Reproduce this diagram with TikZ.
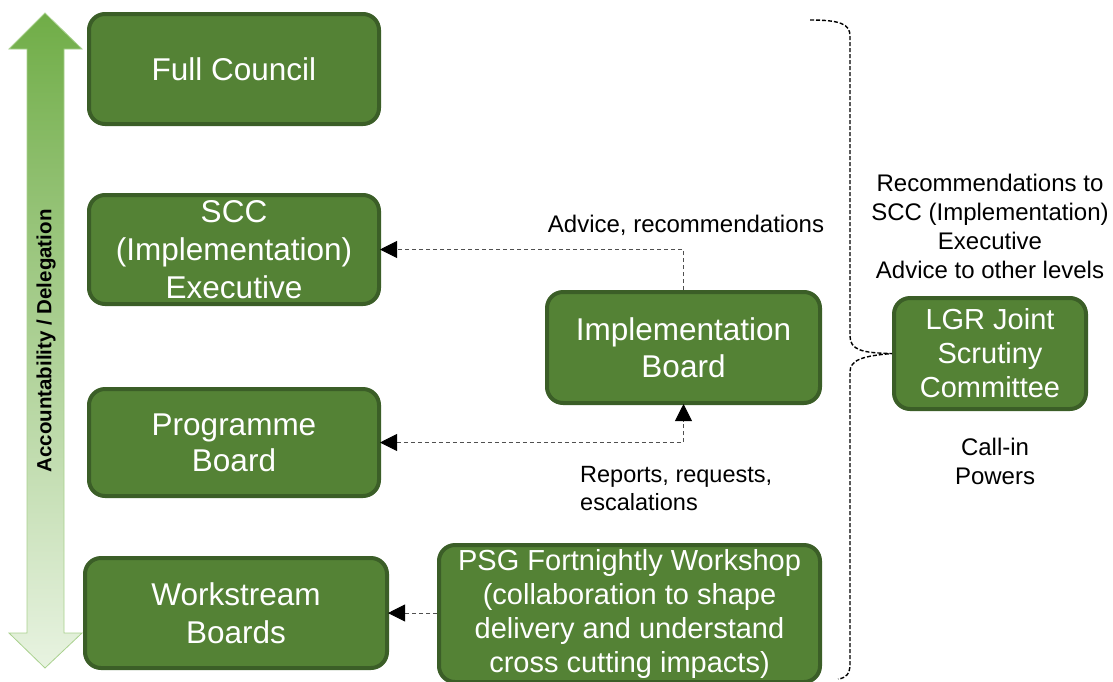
\documentclass[tikz,border=0pt]{standalone}
\usepackage{fontspec}
\setmainfont{Liberation Sans}
\usetikzlibrary{arrows.meta}

\definecolor{boxfill}{HTML}{548235}
\definecolor{boxedge}{HTML}{3B5E27}
\definecolor{arrowtop}{HTML}{70AD47}
\definecolor{arrowbot}{HTML}{E8F3E1}
\definecolor{arrowedge}{HTML}{A9D18E}
\definecolor{linkgray}{HTML}{505050}

\tikzset{blk/.tip={Triangle[length=17pt,width=17pt,fill=black,color=black]}}

\begin{document}
\begin{tikzpicture}[x=1pt,y=-1pt,
  govbox/.style={draw=boxedge, fill=boxfill, line width=4pt, rounded corners=16pt,
    text=white, align=center, inner sep=0pt},
  boxfont/.style 2 args={font=\fontsize{#1}{#2}\selectfont},
  note/.style={align=center, inner sep=0pt, font=\fontsize{24}{29}\selectfont},
  link/.style={draw=linkgray, line width=0.9pt, dash pattern=on 4pt off 3pt,
    -{blk}, shorten >=-1pt},
  brace/.style={draw=black, line width=1.4pt, dash pattern=on 4pt off 2pt}
]
\useasboundingbox (0,0) rectangle (1113,681);

% accountability / delegation double arrow
\path[draw=arrowedge, line width=0.8pt, top color=arrowtop, bottom color=arrowbot]
  (45,13) -- (82,49) -- (64,49) -- (64,633) -- (82,633) -- (45,668)
  -- (9,633) -- (27,633) -- (27,49) -- (9,49) -- cycle;
\node[rotate=90, font=\bfseries\fontsize{20.5}{24}\selectfont] (axis) at (46,341)
  {Accountability / Delegation};

% governance levels
\node[govbox, boxfont={31.5}{36}, minimum width=290pt, minimum height=110pt] (full) at (234,69)
  {Full Council};
\node[govbox, boxfont={31.5}{38}, minimum width=290pt, minimum height=109pt] (scc) at (234,249.5)
  {SCC\\(Implementation)\\Executive};
\node[govbox, boxfont={31.5}{36}, minimum width=290pt, minimum height=107pt] (prog) at (234,442.5)
  {Programme\\Board};
\node[govbox, boxfont={31.5}{38}, minimum width=302pt, minimum height=110pt] (work) at (236,613)
  {Workstream\\Boards};
\node[govbox, boxfont={31.5}{37}, minimum width=273pt, minimum height=111pt] (impl) at (683.5,347.5)
  {Implementation\\Board};
\node[govbox, boxfont={29}{34}, minimum width=381pt, minimum height=137pt] (psg) at (629.5,613.5)
  {PSG Fortnightly Workshop\\(collaboration to shape\\delivery and understand\\cross cutting impacts)};
\node[govbox, boxfont={29}{34}, minimum width=192pt, minimum height=111pt] (lgr) at (990,353.5)
  {LGR Joint\\Scrutiny\\Committee};

% reporting lines
\draw[link] (impl.north) |- (scc.east);
\draw[link, {blk}-{blk}, shorten <=-1pt] (prog.east) -| (impl.south);
\draw[link] (psg.west |- work.east) -- (work.east);

% labels
\node[note] (advice) at (686,225) {Advice, recommendations};
\node[note, align=left, anchor=west, font=\fontsize{23.5}{28}\selectfont] (reports) at (580,489)
  {Reports, requests,\\escalations};
\node[note] (recs) at (990,226)
  {Recommendations to\\SCC (Implementation)\\Executive\\Advice to other levels};
\node[note] (callin) at (995,461) {Call-in\\Powers};

% scrutiny brace spanning all levels
\coordinate (btop) at (810,20);
\coordinate (bbot) at (838,679);
\draw[brace] (btop) .. controls (840,20) and (850,24) .. (850,36)
  -- (850,336) .. controls (850,350) and (862,353) .. (lgr.west)
  .. controls (862,356) and (850,360) .. (850,372)
  -- (850,664) .. controls (850,674) and (846,678) .. (bbot);
\end{tikzpicture}
\end{document}
